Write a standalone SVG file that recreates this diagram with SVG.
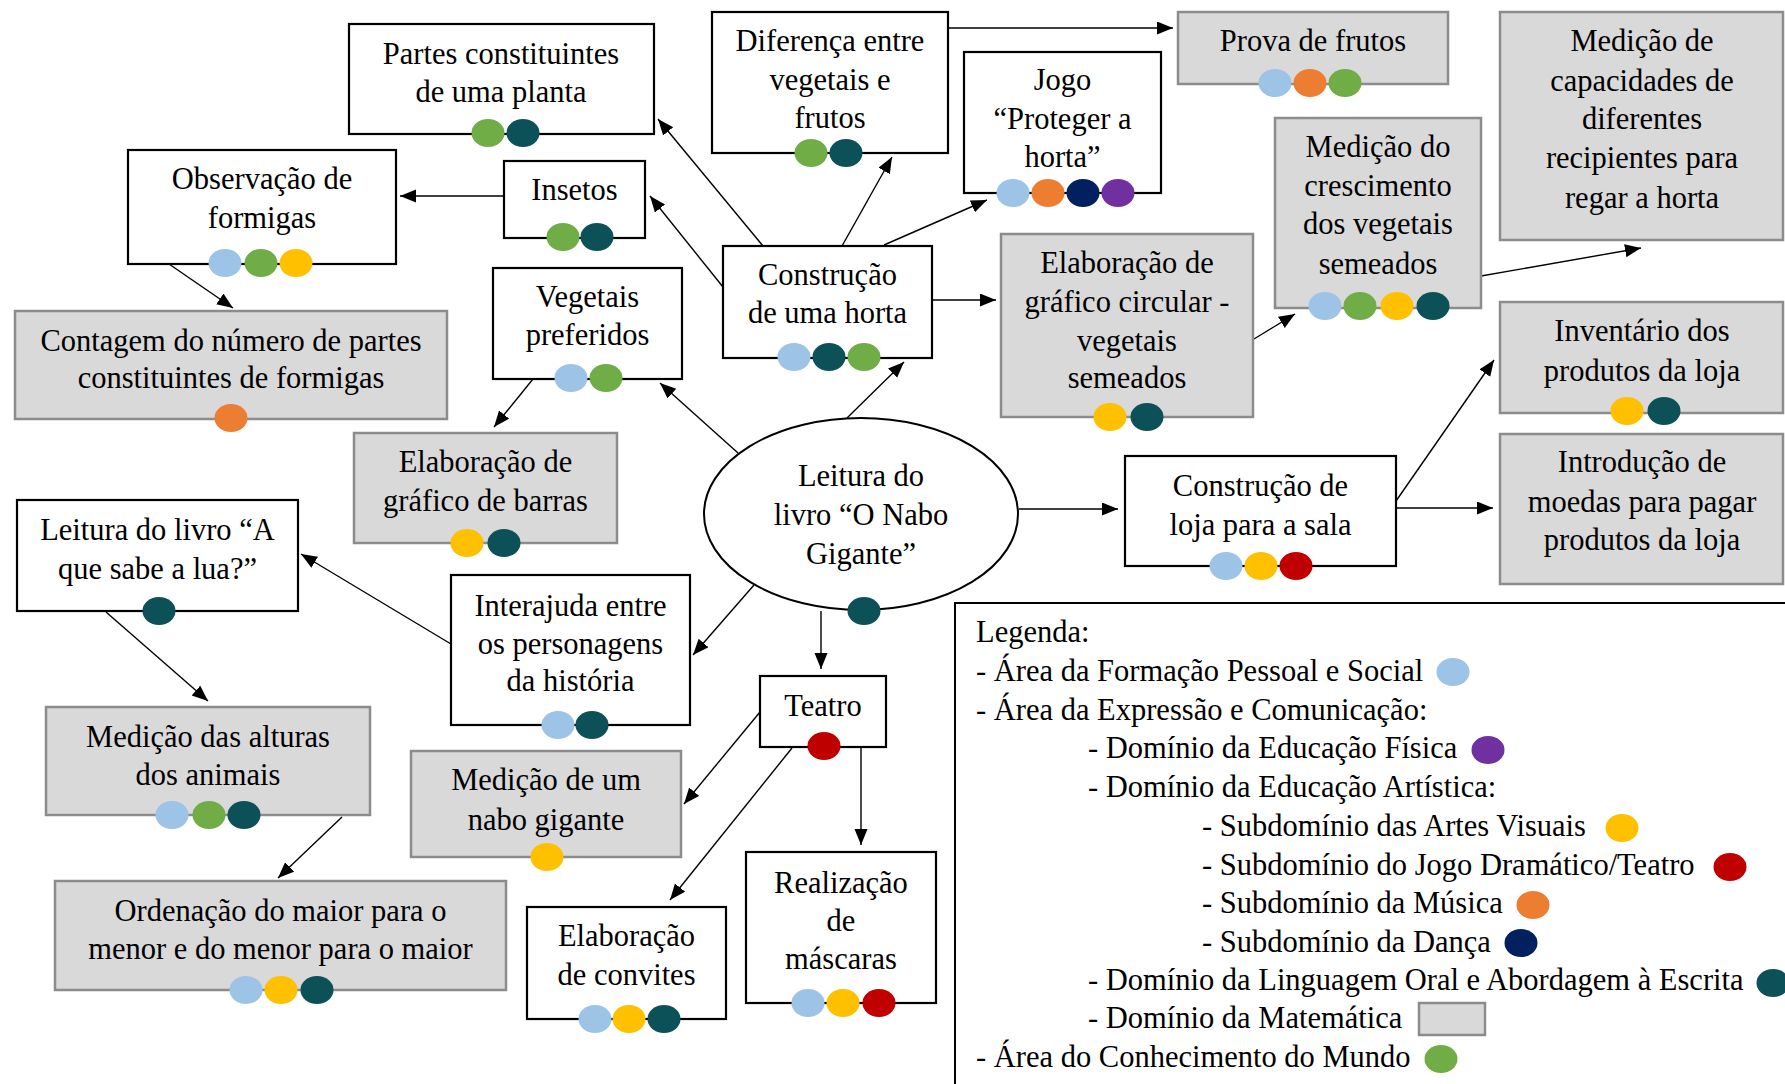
<svg xmlns="http://www.w3.org/2000/svg" width="1785" height="1084" viewBox="0 0 1785 1084">
<defs>
<style>
text{font-family:"Liberation Serif","Times New Roman",serif;font-size:30.5px;fill:#000}
.c{text-anchor:middle}
.w{fill:#fff;stroke:#000;stroke-width:2.2}
.g{fill:#d9d9d9;stroke:#8c8c8c;stroke-width:2.5}
.lb{fill:#9dc3e6}.gr{fill:#70ad47}.tl{fill:#0c5157}.ye{fill:#ffc000}.or{fill:#ed7d31}.nv{fill:#002060}.pu{fill:#7030a0}.rd{fill:#c00000}
#connectors line{stroke:#000;stroke-width:1.4;marker-end:url(#ah)}
</style>
<marker id="ah" markerUnits="userSpaceOnUse" markerWidth="18" markerHeight="14" refX="16" refY="6.5" orient="auto">
<path d="M0,0 L16,6.5 L0,13 z" fill="#000"/>
</marker>
<ellipse id="d" rx="16.5" ry="14"/>
</defs>
<rect width="1785" height="1084" fill="#fff"/>

<g id="connectors">
<line x1="763" y1="246" x2="658" y2="119"/>
<line x1="723" y1="287" x2="650" y2="196"/>
<line x1="842" y1="246" x2="892" y2="157"/>
<line x1="884" y1="245" x2="987" y2="200"/>
<line x1="932" y1="300" x2="996" y2="300"/>
<line x1="948" y1="28" x2="1173" y2="28"/>
<line x1="1254" y1="339" x2="1295" y2="314"/>
<line x1="1481" y1="276" x2="1641" y2="248"/>
<line x1="847" y1="418" x2="904" y2="362"/>
<line x1="738" y1="453" x2="660" y2="383"/>
<line x1="533" y1="379" x2="494" y2="427"/>
<line x1="504" y1="196" x2="400" y2="196"/>
<line x1="169" y1="264" x2="233" y2="308"/>
<line x1="1019" y1="509" x2="1118" y2="509"/>
<line x1="1396" y1="501" x2="1494" y2="360"/>
<line x1="1396" y1="508" x2="1493" y2="508"/>
<line x1="754" y1="585" x2="693" y2="655"/>
<line x1="451" y1="644" x2="301" y2="554"/>
<line x1="106" y1="612" x2="208" y2="701"/>
<line x1="342" y1="817" x2="278" y2="878"/>
<line x1="821" y1="611" x2="821" y2="669"/>
<line x1="760" y1="712" x2="684" y2="804"/>
<line x1="792" y1="748" x2="670" y2="900"/>
<line x1="861" y1="747" x2="861" y2="845"/>
</g>

<g id="partes">
<rect class="w" x="349" y="24" width="305" height="110"/>
<text class="c" x="501" y="64">Partes constituintes</text>
<text class="c" x="501" y="102">de uma planta</text>
<use href="#d" class="gr" x="488" y="133"/><use href="#d" class="tl" x="523" y="133"/>
</g>

<g id="observacao">
<rect class="w" x="128" y="150" width="268" height="114"/>
<text class="c" x="262" y="189">Observação de</text>
<text class="c" x="262" y="228">formigas</text>
<use href="#d" class="lb" x="225" y="263"/><use href="#d" class="gr" x="261" y="263"/><use href="#d" class="ye" x="296" y="263"/>
</g>

<g id="insetos">
<rect class="w" x="504" y="161" width="141" height="77"/>
<text class="c" x="574.5" y="200">Insetos</text>
<use href="#d" class="gr" x="563" y="237"/><use href="#d" class="tl" x="597" y="237"/>
</g>

<g id="contagem">
<rect class="g" x="15" y="311" width="432" height="108"/>
<text class="c" x="231" y="351">Contagem do número de partes</text>
<text class="c" x="231" y="388">constituintes de formigas</text>
<use href="#d" class="or" x="231" y="418"/>
</g>

<g id="vegetais">
<rect class="w" x="493" y="268" width="189" height="111"/>
<text class="c" x="587.5" y="307">Vegetais</text>
<text class="c" x="587.5" y="345">preferidos</text>
<use href="#d" class="lb" x="571" y="378"/><use href="#d" class="gr" x="606" y="378"/>
</g>

<g id="diferenca">
<rect class="w" x="712" y="12" width="236" height="141"/>
<text class="c" x="830" y="51">Diferença entre</text>
<text class="c" x="830" y="90">vegetais e</text>
<text class="c" x="830" y="128">frutos</text>
<use href="#d" class="gr" x="811" y="153"/><use href="#d" class="tl" x="846" y="153"/>
</g>

<g id="jogo">
<rect class="w" x="964" y="52" width="197" height="141"/>
<text class="c" x="1062.5" y="90">Jogo</text>
<text class="c" x="1062.5" y="129">“Proteger a</text>
<text class="c" x="1062.5" y="167">horta”</text>
<use href="#d" class="lb" x="1013" y="193"/><use href="#d" class="or" x="1048" y="193"/><use href="#d" class="nv" x="1083" y="193"/><use href="#d" class="pu" x="1118" y="193"/>
</g>

<g id="horta">
<rect class="w" x="723" y="246" width="209" height="112"/>
<text class="c" x="827.5" y="285">Construção</text>
<text class="c" x="827.5" y="323">de uma horta</text>
<use href="#d" class="lb" x="794" y="357"/><use href="#d" class="tl" x="829" y="357"/><use href="#d" class="gr" x="864" y="357"/>
</g>

<g id="circular">
<rect class="g" x="1001" y="234" width="252" height="183"/>
<text class="c" x="1127" y="273">Elaboração de</text>
<text class="c" x="1127" y="312">gráfico circular -</text>
<text class="c" x="1127" y="351">vegetais</text>
<text class="c" x="1127" y="388">semeados</text>
<use href="#d" class="ye" x="1110" y="417"/><use href="#d" class="tl" x="1147" y="417"/>
</g>

<g id="prova">
<rect class="g" x="1178" y="12" width="270" height="72"/>
<text class="c" x="1313" y="51">Prova de frutos</text>
<use href="#d" class="lb" x="1275" y="83"/><use href="#d" class="or" x="1310" y="83"/><use href="#d" class="gr" x="1345" y="83"/>
</g>

<g id="capacidades">
<rect class="g" x="1500" y="12" width="283" height="228"/>
<text class="c" x="1642" y="51">Medição de</text>
<text class="c" x="1642" y="91">capacidades de</text>
<text class="c" x="1642" y="129">diferentes</text>
<text class="c" x="1642" y="168">recipientes para</text>
<text class="c" x="1642" y="208">regar a horta</text>
</g>

<g id="crescimento">
<rect class="g" x="1275" y="118" width="206" height="190"/>
<text class="c" x="1378" y="157">Medição do</text>
<text class="c" x="1378" y="196">crescimento</text>
<text class="c" x="1378" y="234">dos vegetais</text>
<text class="c" x="1378" y="274">semeados</text>
<use href="#d" class="lb" x="1325" y="306"/><use href="#d" class="gr" x="1360" y="306"/><use href="#d" class="ye" x="1397" y="306"/><use href="#d" class="tl" x="1433" y="306"/>
</g>

<g id="inventario">
<rect class="g" x="1500" y="302" width="283" height="111"/>
<text class="c" x="1642" y="341">Inventário dos</text>
<text class="c" x="1642" y="381">produtos da loja</text>
<use href="#d" class="ye" x="1627" y="411"/><use href="#d" class="tl" x="1664" y="411"/>
</g>

<g id="introducao">
<rect class="g" x="1500" y="434" width="283" height="150"/>
<text class="c" x="1642" y="472">Introdução de</text>
<text class="c" x="1642" y="512">moedas para pagar</text>
<text class="c" x="1642" y="550">produtos da loja</text>
</g>

<g id="loja">
<rect class="w" x="1125" y="456" width="271" height="110"/>
<text class="c" x="1260.5" y="496">Construção de</text>
<text class="c" x="1260.5" y="535">loja para a sala</text>
<use href="#d" class="lb" x="1226" y="566"/><use href="#d" class="ye" x="1261" y="566"/><use href="#d" class="rd" x="1296" y="566"/>
</g>

<g id="nabo-livro">
<ellipse cx="861" cy="514" rx="157" ry="96" fill="#fff" stroke="#000" stroke-width="2"/>
<text class="c" x="861" y="486">Leitura do</text>
<text class="c" x="861" y="525">livro “O Nabo</text>
<text class="c" x="861" y="564">Gigante”</text>
<use href="#d" class="tl" x="864" y="611"/>
</g>

<g id="barras">
<rect class="g" x="354" y="433" width="263" height="110"/>
<text class="c" x="485.5" y="472">Elaboração de</text>
<text class="c" x="485.5" y="511">gráfico de barras</text>
<use href="#d" class="ye" x="467" y="543"/><use href="#d" class="tl" x="504" y="543"/>
</g>

<g id="lua">
<rect class="w" x="17" y="500" width="281" height="111"/>
<text class="c" x="157.5" y="540">Leitura do livro “A</text>
<text class="c" x="157.5" y="579">que sabe a lua?”</text>
<use href="#d" class="tl" x="159" y="611"/>
</g>

<g id="interajuda">
<rect class="w" x="451" y="575" width="239" height="150"/>
<text class="c" x="570.5" y="616">Interajuda entre</text>
<text class="c" x="570.5" y="654">os personagens</text>
<text class="c" x="570.5" y="691">da história</text>
<use href="#d" class="lb" x="558" y="725"/><use href="#d" class="tl" x="592" y="725"/>
</g>

<g id="alturas">
<rect class="g" x="46" y="707" width="324" height="108"/>
<text class="c" x="208" y="747">Medição das alturas</text>
<text class="c" x="208" y="785">dos animais</text>
<use href="#d" class="lb" x="172" y="815"/><use href="#d" class="gr" x="209" y="815"/><use href="#d" class="tl" x="244" y="815"/>
</g>

<g id="nabo">
<rect class="g" x="411" y="751" width="270" height="106"/>
<text class="c" x="546" y="790">Medição de um</text>
<text class="c" x="546" y="830">nabo gigante</text>
<use href="#d" class="ye" x="547" y="857"/>
</g>

<g id="ordenacao">
<rect class="g" x="55" y="881" width="451" height="109"/>
<text class="c" x="280.5" y="921">Ordenação do maior para o</text>
<text class="c" x="280.5" y="959">menor e do menor para o maior</text>
<use href="#d" class="lb" x="246" y="990"/><use href="#d" class="ye" x="281" y="990"/><use href="#d" class="tl" x="317" y="990"/>
</g>

<g id="convites">
<rect class="w" x="527" y="907" width="199" height="112"/>
<text class="c" x="626.5" y="946">Elaboração</text>
<text class="c" x="626.5" y="985">de convites</text>
<use href="#d" class="lb" x="595" y="1019"/><use href="#d" class="ye" x="629" y="1019"/><use href="#d" class="tl" x="664" y="1019"/>
</g>

<g id="teatro">
<rect class="w" x="760" y="676" width="126" height="71"/>
<text class="c" x="823" y="716">Teatro</text>
<use href="#d" class="rd" x="824" y="746"/>
</g>

<g id="mascaras">
<rect class="w" x="746" y="852" width="190" height="151"/>
<text class="c" x="841" y="893">Realização</text>
<text class="c" x="841" y="931">de</text>
<text class="c" x="841" y="969">máscaras</text>
<use href="#d" class="lb" x="808" y="1003"/><use href="#d" class="ye" x="843" y="1003"/><use href="#d" class="rd" x="879" y="1003"/>
</g>

<g id="legenda">
<rect x="955" y="603" width="900" height="600" fill="#fff" stroke="#000" stroke-width="2"/>
<text x="976" y="642">Legenda:</text>
<text x="976" y="681">- Área da Formação Pessoal e Social</text>
<use href="#d" class="lb" x="1453" y="672"/>
<text x="976" y="720">- Área da Expressão e Comunicação:</text>
<text x="1088" y="758">- Domínio da Educação Física</text>
<use href="#d" class="pu" x="1488" y="750"/>
<text x="1088" y="797">- Domínio da Educação Artística:</text>
<text x="1202" y="836">- Subdomínio das Artes Visuais</text>
<use href="#d" class="ye" x="1622" y="828"/>
<text x="1202" y="875">- Subdomínio do Jogo Dramático/Teatro</text>
<use href="#d" class="rd" x="1730" y="867"/>
<text x="1202" y="913">- Subdomínio da Música</text>
<use href="#d" class="or" x="1533" y="905"/>
<text x="1202" y="952">- Subdomínio da Dança</text>
<use href="#d" class="nv" x="1521" y="943"/>
<text x="1088" y="990">- Domínio da Linguagem Oral e Abordagem à Escrita</text>
<use href="#d" class="tl" x="1773" y="983"/>
<text x="1088" y="1028">- Domínio da Matemática</text>
<rect class="g" x="1419" y="1003" width="66" height="32"/>
<text x="976" y="1067">- Área do Conhecimento do Mundo</text>
<use href="#d" class="gr" x="1441" y="1059"/>
</g>
</svg>
